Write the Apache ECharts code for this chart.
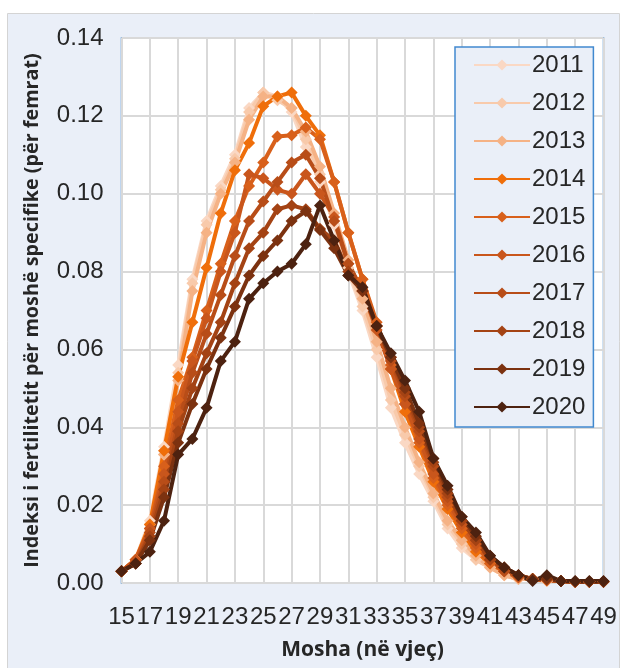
<!DOCTYPE html>
<html>
<head>
<meta charset="utf-8">
<script src="https://cdn.jsdelivr.net/npm/echarts@6/dist/echarts.min.js"></script>
<style>
  html, body { margin: 0; padding: 0; background: #fff; }
  #chart { width: 626px; height: 668px; }
</style>
</head>
<body>
<div id="chart"></div>
<script>
const ages = [];
for (let a = 15; a <= 49; a++) ages.push(String(a));

const years = ['2011', '2012', '2013', '2014', '2015', '2016', '2017', '2018', '2019', '2020'];
const colors = ['#fad8c4', '#f8caab', '#f5b285', '#ef6e0a', '#d8601b', '#c9561c', '#b84d18', '#a44314', '#7c3210', '#4d2210'];

const y2011 = [0.003, 0.006, 0.016, 0.035, 0.056, 0.078, 0.093, 0.102, 0.110, 0.122, 0.126, 0.125, 0.121, 0.112, 0.103, 0.092, 0.080, 0.070, 0.058, 0.045, 0.036, 0.028, 0.021, 0.014, 0.009, 0.006, 0.004, 0.002, 0.001, 0.001, 0.0005, 0.0005, 0.0003, 0.0003, 0.0003];
const y2012 = [0.003, 0.006, 0.015, 0.033, 0.054, 0.077, 0.092, 0.101, 0.109, 0.121, 0.126, 0.124, 0.122, 0.114, 0.105, 0.093, 0.081, 0.071, 0.060, 0.047, 0.038, 0.030, 0.022, 0.015, 0.010, 0.006, 0.004, 0.002, 0.001, 0.001, 0.0005, 0.0005, 0.0003, 0.0003, 0.0003];
const y2013 = [0.003, 0.006, 0.015, 0.033, 0.052, 0.075, 0.090, 0.100, 0.108, 0.119, 0.125, 0.125, 0.122, 0.116, 0.107, 0.095, 0.083, 0.073, 0.062, 0.050, 0.040, 0.031, 0.023, 0.016, 0.011, 0.007, 0.004, 0.002, 0.001, 0.001, 0.0005, 0.0005, 0.0003, 0.0003, 0.0003];
const y2014 = [0.003, 0.006, 0.015, 0.034, 0.053, 0.067, 0.081, 0.095, 0.106, 0.113, 0.1225, 0.125, 0.126, 0.120, 0.115, 0.103, 0.090, 0.078, 0.066, 0.055, 0.044, 0.035, 0.026, 0.019, 0.013, 0.008, 0.005, 0.003, 0.0015, 0.001, 0.0008, 0.0005, 0.0003, 0.0003, 0.0003];
const y2015 = [0.003, 0.006, 0.014, 0.030, 0.047, 0.058, 0.070, 0.082, 0.093, 0.102, 0.108, 0.1147, 0.115, 0.117, 0.114, 0.103, 0.090, 0.078, 0.067, 0.056, 0.046, 0.036, 0.027, 0.020, 0.014, 0.009, 0.005, 0.003, 0.0015, 0.001, 0.0008, 0.0005, 0.0003, 0.0003, 0.0003];
const y2016 = [0.003, 0.006, 0.014, 0.028, 0.044, 0.057, 0.068, 0.080, 0.090, 0.105, 0.104, 0.101, 0.100, 0.105, 0.100, 0.094, 0.082, 0.075, 0.065, 0.055, 0.046, 0.037, 0.028, 0.021, 0.015, 0.010, 0.006, 0.003, 0.0015, 0.001, 0.0008, 0.0005, 0.0003, 0.0003, 0.0003];
const y2017 = [0.003, 0.005, 0.013, 0.026, 0.041, 0.054, 0.064, 0.074, 0.084, 0.093, 0.098, 0.103, 0.108, 0.110, 0.104, 0.093, 0.082, 0.075, 0.066, 0.057, 0.048, 0.039, 0.030, 0.022, 0.016, 0.011, 0.006, 0.003, 0.002, 0.001, 0.0008, 0.0005, 0.0003, 0.0003, 0.0003];
const y2018 = [0.003, 0.005, 0.012, 0.024, 0.039, 0.050, 0.059, 0.067, 0.077, 0.086, 0.090, 0.096, 0.097, 0.096, 0.091, 0.088, 0.080, 0.075, 0.066, 0.058, 0.049, 0.040, 0.031, 0.023, 0.016, 0.011, 0.006, 0.004, 0.002, 0.001, 0.001, 0.0005, 0.0003, 0.0003, 0.0003];
const y2019 = [0.003, 0.005, 0.011, 0.022, 0.036, 0.046, 0.055, 0.063, 0.071, 0.079, 0.084, 0.088, 0.093, 0.0955, 0.0907, 0.086, 0.079, 0.075, 0.066, 0.058, 0.050, 0.041, 0.032, 0.024, 0.017, 0.012, 0.007, 0.004, 0.002, 0.001, 0.001, 0.0005, 0.0003, 0.0003, 0.0003];
const y2020 = [0.003, 0.005, 0.008, 0.016, 0.033, 0.037, 0.045, 0.057, 0.062, 0.073, 0.077, 0.080, 0.082, 0.087, 0.097, 0.088, 0.079, 0.076, 0.066, 0.059, 0.052, 0.044, 0.032, 0.025, 0.017, 0.013, 0.007, 0.004, 0.002, 0.0005, 0.002, 0.0005, 0.0005, 0.0005, 0.0005];

const values = [y2011, y2012, y2013, y2014, y2015, y2016, y2017, y2018, y2019, y2020];

const chart = echarts.init(document.getElementById('chart'));

const blue = '#4189cf';
const textColor = '#262626';

chart.setOption({
  backgroundColor: '#fff',
  animation: false,
  graphic: [{
    type: 'rect',
    z: -10,
    shape: { x: 7.5, y: 13.5, width: 612, height: 660 },
    style: { fill: '#eaeff8', stroke: '#d4d4d4', lineWidth: 1 }
  }],
  grid: {
    left: 121.5, top: 38, width: 482, height: 545,
    show: true,
    backgroundColor: '#fff',
    borderColor: blue,
    borderWidth: 1.5
  },
  legend: {
    orient: 'vertical',
    left: 455, top: 47,
    width: 139,
    padding: [4, 8, 6, 18],
    backgroundColor: '#eaeff8',
    borderColor: blue,
    borderWidth: 1.5,
    borderRadius: 0,
    itemWidth: 56,
    itemHeight: 14,
    itemGap: 10,
    textStyle: { fontFamily: 'Liberation Sans', fontSize: 24, color: textColor, lineHeight: 28, padding: [0, 0, 0, -3] },
    data: years
  },
  xAxis: {
    type: 'category',
    data: ages,
    boundaryGap: false,
    name: 'Mosha (në vjeç)',
    nameLocation: 'middle',
    nameGap: 57,
    nameTextStyle: { fontFamily: 'Open Sans', fontWeight: 'bold', fontSize: 21, color: textColor },
    axisLine: { show: false },
    axisTick: { show: false },
    axisLabel: { interval: 1, margin: 22, fontFamily: 'Liberation Sans', fontSize: 24, color: textColor },
    splitLine: { show: true, interval: 1, lineStyle: { color: '#d9d9d9', width: 2 } }
  },
  yAxis: {
    type: 'value',
    min: 0, max: 0.14, interval: 0.02,
    name: 'Indeksi i fertilitetit për moshë specifike (për femrat)',
    nameLocation: 'middle',
    nameRotate: 90,
    nameGap: 79,
    nameTextStyle: { fontFamily: 'Open Sans', fontWeight: 'bold', fontSize: 19.8, color: textColor },
    axisLine: { show: false },
    axisTick: { show: false },
    axisLabel: { margin: 18, fontFamily: 'Liberation Sans', fontSize: 24, color: textColor, formatter: v => v.toFixed(2) },
    splitLine: { lineStyle: { color: '#d9d9d9', width: 2 } }
  },
  series: years.map((y, i) => ({
    name: y,
    type: 'line',
    data: values[i],
    symbol: 'diamond',
    symbolSize: 12,
    showAllSymbol: true,
    lineStyle: { width: 4, color: colors[i] },
    itemStyle: { color: colors[i] }
  }))
});
</script>
</body>
</html>
